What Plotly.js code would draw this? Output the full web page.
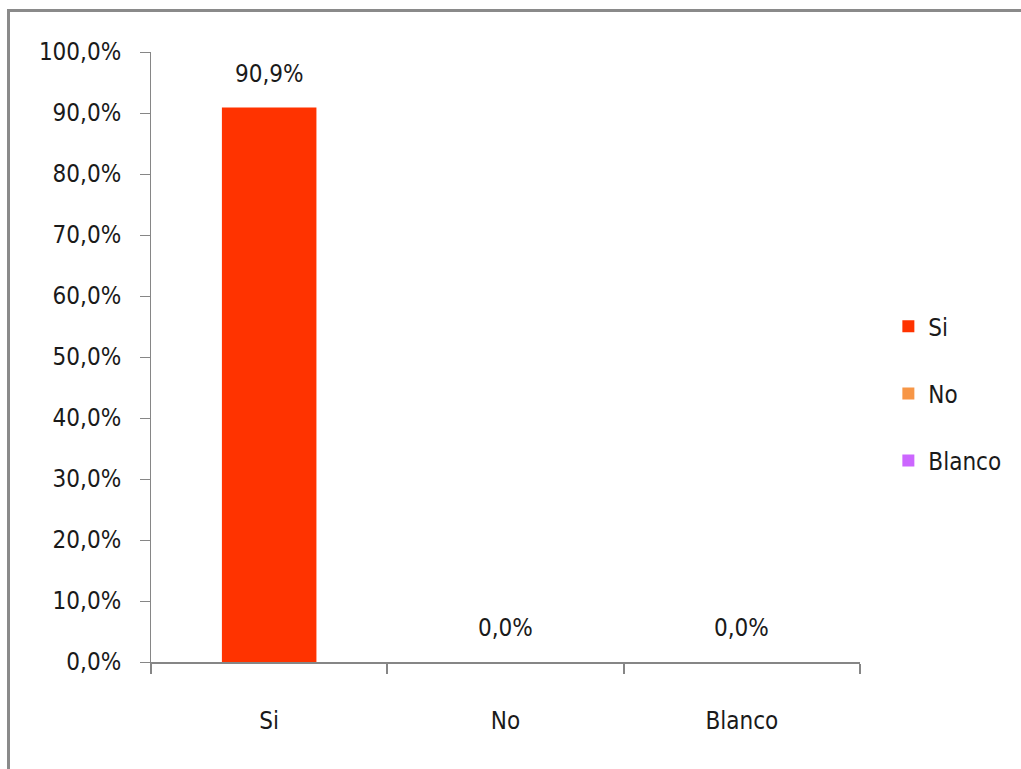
<!DOCTYPE html>
<html>
<head>
<meta charset="utf-8">
<script src="https://cdn.plot.ly/plotly-3.0.1.min.js"></script>
<style>
  html, body { margin: 0; padding: 0; background: #fff; overflow: hidden; }
  #frame { position: absolute; left: 7px; top: 9px; width: 1100px; height: 900px;
           border-left: 3px solid #8a8a8a; border-top: 3px solid #8a8a8a; pointer-events: none; z-index: 5; }
  #chart { position: absolute; left: 0; top: 0; width: 1021px; height: 769px; }
</style>
</head>
<body>
<div id="chart"></div>
<div id="frame"></div>
<script>
const categories = ["Si", "No", "Blanco"];
const values = [90.9, 0.0, 0.0];
const colors = ["#FF3300", "#F79646", "#CC66FF"];
const yTickVals = [0, 10, 20, 30, 40, 50, 60, 70, 80, 90, 100];
const yTickText = ["0,0%", "10,0%", "20,0%", "30,0%", "40,0%", "50,0%", "60,0%", "70,0%", "80,0%", "90,0%", "100,0%"];

const FONT = "DejaVu Sans Condensed, Liberation Sans Narrow, sans-serif";
const fmt = v => v.toFixed(1).replace('.', ',') + '%';

const traces = categories.map((c, i) => ({
  type: 'bar',
  x: [c],
  y: [values[i]],
  name: c,
  width: 0.4,
  marker: { color: colors[i] },
  legendgroup: 'g' + i,
  hoverinfo: 'none'
}));

const annotations = categories.map((c, i) => ({
  x: c, y: values[i], xref: 'x', yref: 'y',
  text: fmt(values[i]), showarrow: false,
  yanchor: 'bottom', yshift: 18,
  font: { family: FONT, size: 24, color: '#1a1a1a' }
}));

const layout = {
  width: 1021, height: 769,
  margin: { l: 151, r: 161, t: 52, b: 107 },
  paper_bgcolor: '#ffffff', plot_bgcolor: '#ffffff',
  separators: ',.',
  barmode: 'overlay',
  showlegend: true,
  font: { family: FONT, size: 24, color: '#1a1a1a' },
  xaxis: {
    type: 'category', categoryorder: 'array', categoryarray: categories,
    range: [-0.5, 2.5],
    showline: true, linecolor: '#868686', linewidth: 2,
    ticks: 'outside', tickson: 'boundaries', ticklen: 10, tickcolor: '#868686', tickwidth: 2,
    showgrid: false, zeroline: false,
    ticklabelstandoff: 36,
    tickfont: { family: FONT, size: 24, color: '#1a1a1a' }
  },
  yaxis: {
    range: [0, 100], tickmode: 'array', tickvals: yTickVals, ticktext: yTickText,
    showline: true, linecolor: '#868686', linewidth: 1,
    ticks: 'outside', ticklen: 10, tickcolor: '#868686', tickwidth: 1,
    showgrid: false, zeroline: false,
    ticklabelstandoff: 14,
    tickfont: { family: FONT, size: 24, color: '#1a1a1a' }
  },
  legend: {
    x: 1.04, xanchor: 'left', y: 0.44, yanchor: 'middle',
    tracegroupgap: 33,
    font: { family: FONT, size: 24, color: '#1a1a1a' },
    bgcolor: 'rgba(0,0,0,0)'
  },
  annotations: annotations
};

Plotly.newPlot('chart', traces, layout, { displayModeBar: false, staticPlot: true });
</script>
</body>
</html>
